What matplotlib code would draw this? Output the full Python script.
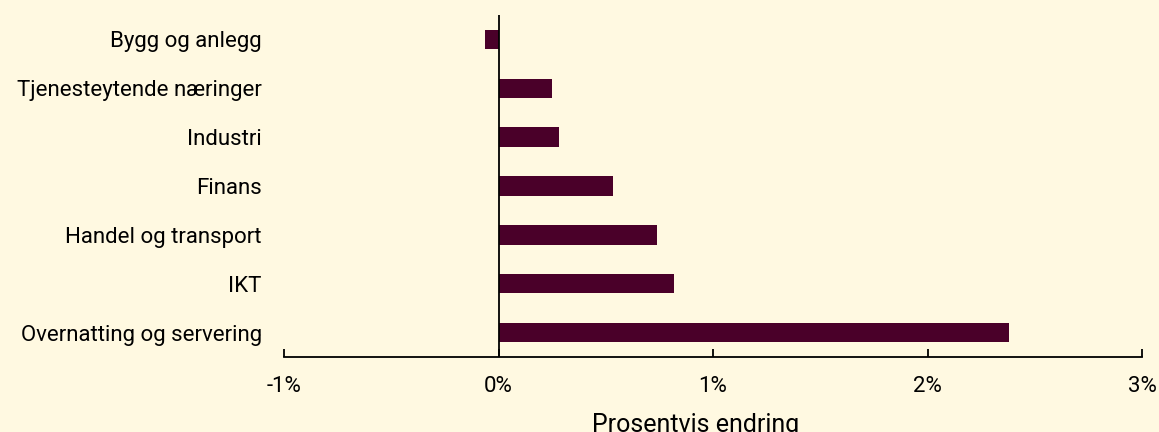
import matplotlib
matplotlib.use("Agg")
import matplotlib.pyplot as plt
from matplotlib.ticker import FuncFormatter

categories = ["Overnatting og servering", "IKT", "Handel og transport", "Finans",
              "Industri", "Tjenesteytende næringer", "Bygg og anlegg"]
values = [2.38, 0.82, 0.74, 0.535, 0.28, 0.25, -0.065]
xticks = [-1, 0, 1, 2, 3]

bg = "#FFF9E1"
bar_color = "#4A0029"

plt.rcParams['font.family'] = ['Roboto', 'DejaVu Sans']

fig = plt.figure(figsize=(11.59, 4.32), dpi=100, facecolor=bg)
ax = fig.add_axes([284/1159, 1-357/432, (1142-284)/1159, (357-15)/432])
ax.set_facecolor(bg)

ypos = list(range(len(categories)))
ax.barh(ypos, values, height=0.4, color=bar_color)
ax.axvline(0, color="black", lw=1.3)

ax.set_xlim(-1, 3)
ax.set_ylim(-0.5, 6.5)
ax.set_xticks(xticks)
ax.xaxis.set_major_formatter(FuncFormatter(lambda v, p: f"{v:.0f}%"))
ax.set_yticks(ypos)
ax.set_yticklabels(categories)

for s in ["top", "right", "left"]:
    ax.spines[s].set_visible(False)
ax.spines["bottom"].set_linewidth(1.3)
ax.tick_params(axis="y", length=0, pad=16, labelsize=16)
ax.tick_params(axis="x", direction="in", length=6, width=1.3, pad=14, labelsize=16)

ax.set_xlabel("Prosentvis endring", fontsize=18)
ax.xaxis.set_label_coords(0.48, -0.165)
ax.xaxis.label.set_verticalalignment("top")

fig.savefig("out.png", dpi=100, facecolor=bg)
